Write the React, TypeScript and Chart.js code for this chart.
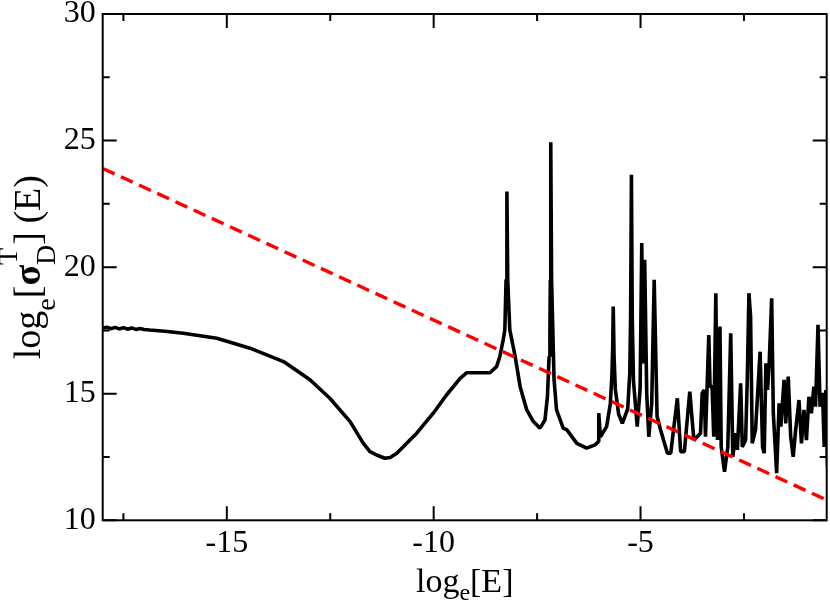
import React, { useEffect, useRef } from "react";
import { Chart, registerables } from "chart.js";

Chart.register(...registerables);

// Black curve: log_e[sigma_D^T](E) versus log_e[E]
const curveX = [
  -18.0, -17.9, -17.8, -17.7, -17.6, -17.5, -17.4, -17.3, -17.2, -17.1, -17.0,
  -16.86, -16.5, -16.05, -15.24, -14.44, -13.63, -12.99, -12.51, -12.02, -11.7,
  -11.54, -11.38, -11.18, -11.05, -10.89, -10.61, -10.41, -10.01, -9.69, -9.36,
  -9.2, -8.64, -8.48, -8.4, -8.32, -8.28, -8.25, -8.23, -8.21, -8.16, -8.03,
  -7.91, -7.75, -7.59, -7.43, -7.31, -7.25, -7.21, -7.19, -7.18, -7.17, -7.15,
  -7.12, -7.09, -7.03, -6.87, -6.78, -6.54, -6.3, -6.1, -6.02, -6.01, -5.97,
  -5.82, -5.73, -5.69, -5.67, -5.66, -5.64, -5.61, -5.53, -5.44, -5.31, -5.26,
  -5.24, -5.22, -5.2, -5.17, -5.08, -5.01, -4.97, -4.94, -4.9, -4.85, -4.8,
  -4.73, -4.67, -4.6, -4.52, -4.35, -4.27, -4.11, -4.03, -3.94, -3.81, -3.71,
  -3.55, -3.51, -3.46, -3.43, -3.35, -3.32, -3.27, -3.23, -3.18, -3.14, -3.08,
  -3.05, -2.97, -2.89, -2.82, -2.77, -2.7, -2.66, -2.58, -2.54, -2.46, -2.42,
  -2.38, -2.34, -2.3, -2.22, -2.11, -2.05, -2.01, -1.97, -1.93, -1.89, -1.83,
  -1.79, -1.71, -1.65, -1.61, -1.53, -1.49, -1.43, -1.37, -1.31, -1.25, -1.17,
  -1.11, -1.05, -0.99, -0.93, -0.87, -0.81, -0.77, -0.71, -0.66, -0.6, -0.56,
  -0.52, -0.48,
];
const curveY = [
  17.6, 17.63, 17.57, 17.62, 17.56, 17.61, 17.55, 17.6, 17.54, 17.58, 17.54,
  17.52, 17.47, 17.39, 17.19, 16.8, 16.27, 15.55, 14.82, 13.9, 13.04,
  12.71, 12.58, 12.45, 12.48, 12.65, 13.11, 13.44, 14.23, 14.95, 15.61,
  15.83, 15.83, 16.07, 16.47, 17.13, 17.52, 19.5, 22.99, 19.5, 17.52, 16.47,
  15.28, 14.36, 13.9, 13.64, 13.96, 14.89, 16.47, 17.52, 19.5, 24.93, 19.5,
  17.52, 15.55, 14.36, 13.64, 13.57, 13.04, 12.85, 12.98, 13.1, 14.23, 13.3,
  13.7, 14.6, 15.8, 17.0, 18.44, 16.5, 15.2, 14.2, 13.83, 14.4, 15.8,
  18.0, 23.65, 18.0, 15.5, 13.7, 15.2, 20.95, 16.2, 20.29, 15.0, 13.3,
  14.6, 19.5, 14.1, 13.6, 12.65, 12.65, 14.82, 12.71, 12.71, 15.08, 13.17,
  13.44, 15.02, 15.15, 13.3, 17.32, 15.28, 15.28, 13.3, 18.97, 13.17, 17.65,
  12.9, 11.92, 12.9, 17.39, 12.51, 13.44, 12.78, 15.41, 12.9, 13.17, 15.55,
  18.97, 18.05, 13.04, 13.57, 16.66, 12.9, 12.65, 16.2, 15.15, 16.2, 18.77,
  14.23, 11.86, 14.62, 13.7, 15.55, 13.83, 15.68, 13.3, 12.51, 13.57, 14.75,
  13.04, 14.36, 13.17, 14.88, 14.23, 15.28, 14.49, 17.72, 14.49, 15.02, 12.9,
  15.15, 12.12,
];

// Red dashed reference line
const refX = [-18, -0.5];
const refY = [23.9, 10.8];

// Axes
const xMin = -18;
const xMax = -0.5;
const yMin = 10;
const yMax = 30;
const xMajorTicks = [-15, -10, -5];
const xMinorTicks = [-17.5, -12.5, -7.5, -2.5];
const yMajorTicks = [10, 15, 20, 25, 30];
const yMinorTicks = [12.5, 17.5, 22.5, 27.5];

const SERIF = "'Liberation Serif', 'DejaVu Serif', serif";

type Seg = { text: string; font: string; dy: number; stack?: boolean };

function drawRich(ctx: CanvasRenderingContext2D, segs: Seg[], cx: number, baseY: number) {
  const items: { s: Seg; x: number }[] = [];
  let x = 0;
  let prevStart = 0;
  let prevW = 0;
  for (const s of segs) {
    ctx.font = s.font;
    const w = ctx.measureText(s.text).width;
    if (s.stack) {
      items.push({ s, x: prevStart });
      const nw = Math.max(prevW, w);
      x = prevStart + nw;
      prevW = nw;
    } else {
      items.push({ s, x });
      prevStart = x;
      prevW = w;
      x += w;
    }
  }
  const start = cx - x / 2;
  ctx.textAlign = "left";
  ctx.textBaseline = "alphabetic";
  ctx.fillStyle = "#000";
  for (const it of items) {
    ctx.font = it.s.font;
    ctx.fillText(it.s.text, start + it.x, baseY + it.s.dy);
  }
}

const framePlugin = {
  id: "graceFrame",
  afterDatasetsDraw(chart: any) {
    const { ctx, chartArea: a, scales } = chart;
    const xs = scales.x;
    const ys = scales.y;
    ctx.save();
    ctx.strokeStyle = "#000";
    ctx.lineWidth = 2;
    ctx.strokeRect(a.left, a.top, a.right - a.left, a.bottom - a.top);
    ctx.beginPath();
    const xt = (vals: number[], len: number) => {
      for (const v of vals) {
        const p = xs.getPixelForValue(v);
        ctx.moveTo(p, a.bottom);
        ctx.lineTo(p, a.bottom - len);
        ctx.moveTo(p, a.top);
        ctx.lineTo(p, a.top + len);
      }
    };
    const yt = (vals: number[], len: number) => {
      for (const v of vals) {
        const p = ys.getPixelForValue(v);
        ctx.moveTo(a.left, p);
        ctx.lineTo(a.left + len, p);
        ctx.moveTo(a.right, p);
        ctx.lineTo(a.right - len, p);
      }
    };
    xt(xMajorTicks, 14);
    xt(xMinorTicks, 7);
    yt(yMajorTicks, 14);
    yt(yMinorTicks, 7);
    ctx.stroke();

    // X axis title: log_e[E]
    const xcx = (a.left + a.right) / 2;
    drawRich(
      ctx,
      [
        { text: "log", font: `34px ${SERIF}`, dy: 0 },
        { text: "e", font: `24px ${SERIF}`, dy: 8 },
        { text: "[E]", font: `34px ${SERIF}`, dy: 0 },
      ],
      xcx,
      592
    );

    // Y axis title: log_e[σ_D^T] (E)
    const ycy = (a.top + a.bottom) / 2;
    ctx.save();
    ctx.translate(40, ycy);
    ctx.rotate(-Math.PI / 2);
    drawRich(
      ctx,
      [
        { text: "log", font: `38px ${SERIF}`, dy: 0 },
        { text: "e", font: `28px ${SERIF}`, dy: 15 },
        { text: "[", font: `38px ${SERIF}`, dy: 0 },
        { text: "σ", font: `bold 38px ${SERIF}`, dy: 0 },
        { text: "D", font: `28px ${SERIF}`, dy: 15 },
        { text: "T", font: `28px ${SERIF}`, dy: -23, stack: true },
        { text: "]", font: `38px ${SERIF}`, dy: 0 },
        { text: " ", font: `34px ${SERIF}`, dy: 0 },
        { text: "(E)", font: `38px ${SERIF}`, dy: 0 },
      ],
      0,
      0
    );
    ctx.restore();
    ctx.restore();
  },
};

export default function App() {
  const ref = useRef<HTMLCanvasElement | null>(null);
  useEffect(() => {
    document.body.style.margin = "0";
    const canvas = ref.current;
    if (!canvas) return;
    const curve = curveX.map((x, i) => ({ x, y: curveY[i] }));
    const refLine = refX.map((x, i) => ({ x, y: refY[i] }));
    const chart = new Chart(canvas, {
      type: "scatter",
      data: {
        datasets: [
          {
            label: "reference",
            data: refLine,
            showLine: true,
            borderColor: "#ff0000",
            backgroundColor: "#ff0000",
            borderWidth: 3.4,
            borderDash: [13, 7],
            pointRadius: 0,
            order: 0,
          },
          {
            label: "sigma",
            data: curve,
            showLine: true,
            borderColor: "#000000",
            backgroundColor: "#000000",
            borderWidth: 3.6,
            borderJoinStyle: "bevel",
            pointRadius: 0,
            tension: 0,
            order: 1,
          },
        ],
      },
      options: {
        responsive: false,
        animation: false,
        devicePixelRatio: 1,
        layout: { padding: { top: 14, right: 3.3, left: 0, bottom: 0 } },
        plugins: { legend: { display: false }, tooltip: { enabled: false } },
        scales: {
          x: {
            type: "linear",
            min: xMin,
            max: xMax,
            grid: { display: false, drawTicks: false },
            border: { display: false },
            afterBuildTicks: (s: any) => {
              s.ticks = xMajorTicks.map((v) => ({ value: v }));
            },
            afterFit: (s: any) => {
              s.height = 80.7;
              s.paddingLeft = 0;
              s.paddingRight = 0;
            },
            ticks: {
              autoSkip: false,
              maxRotation: 0,
              padding: 4,
              color: "#000",
              font: { family: SERIF, size: 32 },
              callback: (v: any) => String(v),
            },
          },
          y: {
            type: "linear",
            min: yMin,
            max: yMax,
            grid: { display: false, drawTicks: false },
            border: { display: false },
            afterBuildTicks: (s: any) => {
              s.ticks = yMajorTicks.map((v) => ({ value: v }));
            },
            afterFit: (s: any) => {
              s.width = 102.7;
              s.paddingTop = 0;
              s.paddingBottom = 0;
            },
            ticks: {
              autoSkip: false,
              padding: 7,
              color: "#000",
              font: { family: SERIF, size: 32 },
              callback: (v: any) => String(v),
            },
          },
        },
      },
      plugins: [framePlugin],
    });
    return () => chart.destroy();
  }, []);
  return (
    <div style={{ width: 830, height: 601, background: "#fff" }}>
      <canvas ref={ref} width={830} height={601} style={{ display: "block" }} />
    </div>
  );
}
